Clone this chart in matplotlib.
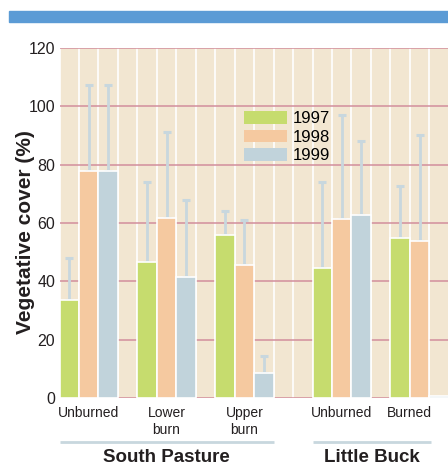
import matplotlib
matplotlib.use('Agg')
import matplotlib.pyplot as plt
from matplotlib.patches import Patch, Rectangle

plt.rcParams['font.family'] = ['Liberation Sans', 'DejaVu Sans']

# data
years = ['1997', '1998', '1999']
sites = ['South Pasture', 'Little Buck']
treatments = [['Unburned', 'Lower\nburn', 'Upper\nburn'], ['Unburned', 'Burned']]
cover_1997 = [33.5, 46.6, 55.8, 44.7, 54.9]
cover_1998 = [77.8, 61.7, 45.5, 61.5, 53.7]
cover_1999 = [78.0, 41.6, 8.5, 62.8, 0.8]
upper_1997 = [48.0, 73.9, 64.0, 74.0, 72.8]
upper_1998 = [107.3, 91.2, 61.0, 97.1, 90.3]
upper_1999 = [107.3, 68.0, 14.4, 88.2, None]

colors = ['#c6dc6e', '#f5c9a0', '#c1d3db']
bg = '#f2e6d1'
grid_col = '#d28e9c'
err_col = '#c8d7de'

cover = [cover_1997, cover_1998, cover_1999]
upper = [upper_1997, upper_1998, upper_1999]

fig = plt.figure(figsize=(4.48, 4.68), dpi=100)
fig.patches.append(Rectangle((9 / 448, 1 - 21.5 / 468), 1, 10.5 / 468,
                             transform=fig.transFigure, color='#5b9bd5', zorder=0))
ax = fig.add_axes([59.5 / 448, 1 - 398 / 468, 1 - 59.5 / 448, 350 / 468])
ax.set_facecolor(bg)
for s in ax.spines.values():
    s.set_visible(False)

# slot layout: 3 bars + 1 gap per treatment, one extra gap between sites
positions = []
slot = 0
for si, tr in enumerate(treatments):
    for t in tr:
        positions.append(slot)
        slot += 4
    slot += 1

for k in range(-1, 21):
    ax.axvline(k + 0.5, color='white', lw=1.2, zorder=1)
for y in range(0, 121, 20):
    ax.axhline(y, color=grid_col, lw=1.1, zorder=1.5)

for yi in range(3):
    xs = [p + yi for p in positions]
    ax.bar(xs, cover[yi], width=1.0, color=colors[yi], edgecolor='white',
           linewidth=1.2, zorder=3)
    for x, v, u in zip(xs, cover[yi], upper[yi]):
        if u is None:
            continue
        ax.errorbar(x, v, yerr=[[0], [u - v]], fmt='none', ecolor=err_col,
                    elinewidth=2, capsize=3, capthick=2.2, zorder=2)

ax.set_xlim(-0.5, 19.46)
ax.set_ylim(0, 120)
ax.set_yticks(range(0, 121, 20))
ax.tick_params(axis='y', length=0, pad=3, labelsize=11.5, labelcolor='#231f20')

labels = [t for tr in treatments for t in tr]
label_shift = [0, 0, 0, 0, -0.5]  # "Burned" sits under its two visible bars
ax.set_xticks([p + 1 + d for p, d in zip(positions, label_shift)])
ax.set_xticklabels(labels, fontsize=10, color='#231f20')
ax.tick_params(axis='x', length=0, pad=6)

ax.set_ylabel('Vegetative cover (%)', fontsize=15, fontweight='bold',
              color='#231f20')
ax.yaxis.set_label_coords(-0.064, 0.475)

# site brackets below the axis
site_span = [(-0.5, 10.5), (12.5, 18.6)]
tr_x = ax.get_xaxis_transform()
for name, (a, b) in zip(sites, site_span):
    ax.plot([a, b], [-0.126, -0.126], color=err_col, lw=2, transform=tr_x,
            clip_on=False, solid_capstyle='butt')
    ax.text((a + b) / 2, -0.171, name, transform=tr_x, ha='center', va='center',
            fontsize=13.5, fontweight='bold', color='#231f20')

handles = [Patch(facecolor=c, edgecolor='none') for c in colors]
ax.legend(handles, years, loc='upper left', bbox_to_anchor=(244 / 448, 1 - 111 / 468),
          bbox_transform=fig.transFigure, frameon=False, fontsize=12,
          handlelength=2.6, handleheight=0.8, handletextpad=0.3,
          labelspacing=0.2, borderpad=0, borderaxespad=0)

fig.savefig('out.png', dpi=100)
